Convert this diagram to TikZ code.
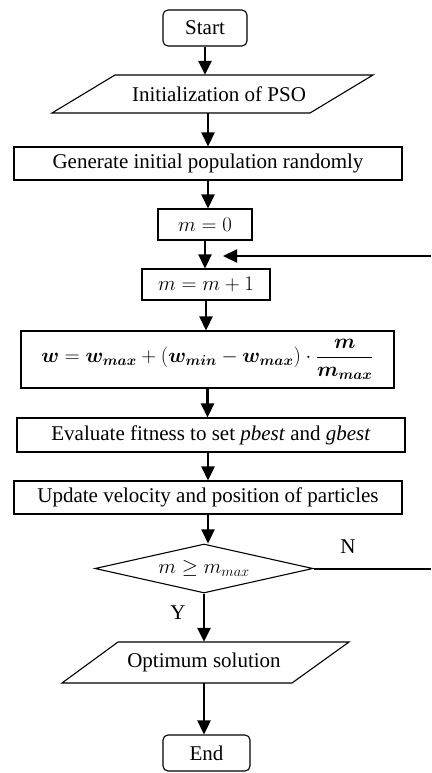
\documentclass[tikz,border=0pt]{standalone}
\usepackage{fontspec}
\setmainfont{Liberation Serif}
\usepackage{amsmath,bm}
\usetikzlibrary{shapes.geometric,arrows.meta}
\begin{document}
\begin{tikzpicture}[x=1pt,y=-1pt,
  font=\fontsize{21}{25}\selectfont,
  box/.style={draw,line width=1.1pt,inner sep=0pt,align=center},
  term/.style={box,rounded corners=5pt},
  plain/.style={inner sep=0pt,align=center},
  para/.style={line width=1.1pt,line join=miter},
  dec/.style={draw,diamond,line width=1.1pt,inner sep=0pt,aspect=4.45},
  arr/.style={-{Triangle[width=13pt,length=14pt]},line width=2.6pt},
  fbline/.style={line width=2pt},
  lbl/.style={inner sep=0pt}]
\useasboundingbox (0,0) rectangle (431,773);

\node[term,minimum width=84,minimum height=36] (start) at (205,28) {Start};
\node[plain,minimum width=200,minimum height=38] (init) at (219,94) {Initialization of PSO};
\draw[para] (52,113) -- (310,113) -- (373,75) -- (115,75) -- cycle;
\node[box,minimum width=388,minimum height=33] (gen) at (208,163.5) {Generate initial population randomly};
\node[box,minimum width=94,minimum height=31] (m0) at (205,224.5) {$m=0$};
\node[box,minimum width=128,minimum height=31] (inc) at (206,284.5) {$m=m+1$};
\node[box,minimum width=373,minimum height=57] (form) at (207.5,359.5)
  {$\bm{w}=\bm{w_{max}}+(\bm{w_{min}}-\bm{w_{max}})\cdot\dfrac{\bm{m}}{\bm{m_{max}}}$};
\node[box,minimum width=388,minimum height=34] (eval) at (211,435) {Evaluate fitness to set \textit{pbest} and \textit{gbest}};
\node[box,minimum width=388,minimum height=33] (upd) at (208,497.5) {Update velocity and position of particles};
\node[dec,minimum width=218,minimum height=49] (chk) at (204,568.5) {$m\geq m_{max}$};
\node[plain,minimum width=200,minimum height=41] (opt) at (204,662.5) {Optimum solution};
\draw[para] (62,683) -- (292,683) -- (349,642) -- (118,642) -- cycle;
\node[term,minimum width=87,minimum height=36] (end) at (206.5,753) {End};

\draw[arr] (start.south) -- (start.south |- init.north);
\draw[arr] (gen.north |- init.south) -- (gen.north);
\draw[arr] (gen.south) -- (gen.south |- m0.north);
\draw[arr] (m0.south) -- (m0.south |- inc.north);
\draw[arr] (inc.south) -- (inc.south |- form.north);
\draw[arr] (form.south) -- (form.south |- eval.north);
\draw[arr] (eval.south -| upd.north) -- (upd.north);
\draw[arr] (upd.south) -- (upd.south |- chk.north);
\draw[arr] (chk.south) -- (chk.south |- opt.north);
\draw[arr] (chk.south |- opt.south) -- (chk.south |- end.north);

\coordinate (nR) at (431,568.5);
\coordinate (lR) at (431,256);
\coordinate (lT) at (223,256);
\draw[fbline] (chk.east) -- (nR);
\draw[arr,line width=2pt] (lR) -- (lT);

\node[lbl] (N) at (348,547) {N};
\node[lbl] (Y) at (178,613) {Y};
\end{tikzpicture}
\end{document}
